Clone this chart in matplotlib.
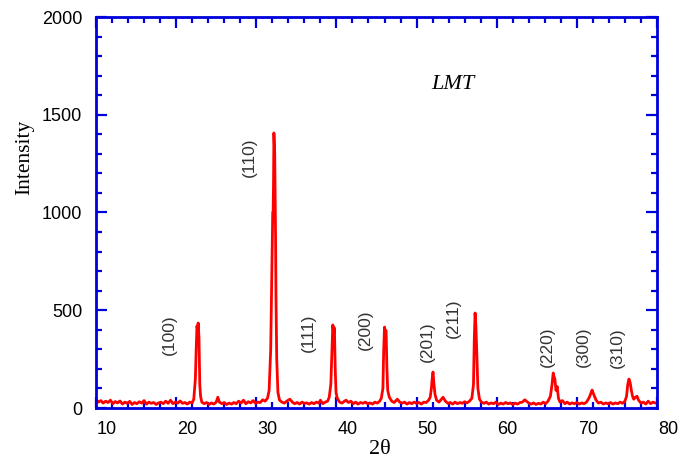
import numpy as np
import matplotlib
matplotlib.use('Agg')
import matplotlib.pyplot as plt
import matplotlib.transforms as mtransforms
from matplotlib.ticker import MultipleLocator

# XRD scan of LMT (2theta in degrees, intensity in counts)
two_theta = [
    10.0, 10.3, 10.6, 10.9, 11.2, 11.5, 11.8, 12.1, 12.4, 12.7,
    13.0, 13.3, 13.6, 13.9, 14.2, 14.5, 14.8, 15.1, 15.4, 15.7,
    16.0, 16.3, 16.6, 16.9, 17.2, 17.5, 17.8, 18.1, 18.4, 18.7,
    19.0, 19.3, 19.6, 19.9, 20.2, 20.5, 20.8, 21.1, 21.4, 21.7,
    22.0, 22.2, 22.4, 22.5, 22.6, 22.7, 22.75, 22.85, 22.95, 23.05,
    23.2, 23.5, 23.8, 24.1, 24.4, 24.7, 25.0, 25.2, 25.4, 25.7,
    26.0, 26.3, 26.6, 26.9, 27.2, 27.5, 27.8, 28.1, 28.4, 28.7,
    29.0, 29.3, 29.6, 29.9, 30.2, 30.5, 30.8, 31.1, 31.4, 31.6,
    31.8, 31.95, 32.05, 32.1, 32.15, 32.2, 32.3, 32.4, 32.45, 32.55,
    32.7, 32.9, 33.2, 33.5, 33.8, 34.2, 34.5, 34.8, 35.1, 35.4,
    35.7, 36.0, 36.3, 36.6, 36.9, 37.2, 37.5, 37.8, 38.0, 38.3,
    38.6, 38.9, 39.1, 39.3, 39.45, 39.55, 39.65, 39.75, 39.85, 39.95,
    40.1, 40.4, 40.7, 41.0, 41.2, 41.5, 41.8, 42.1, 42.4, 42.7,
    43.0, 43.3, 43.6, 43.9, 44.2, 44.5, 44.8, 45.1, 45.4, 45.6,
    45.8, 45.9, 46.0, 46.1, 46.2, 46.3, 46.4, 46.6, 46.9, 47.2,
    47.6, 47.9, 48.2, 48.5, 48.8, 49.1, 49.4, 49.7, 50.0, 50.3,
    50.6, 50.9, 51.2, 51.5, 51.7, 51.85, 51.95, 52.05, 52.15, 52.3,
    52.5, 52.8, 53.1, 53.3, 53.6, 53.9, 54.2, 54.5, 54.8, 55.1,
    55.4, 55.7, 56.0, 56.3, 56.6, 56.9, 57.1, 57.2, 57.3, 57.4,
    57.5, 57.65, 57.85, 58.1, 58.4, 58.7, 59.0, 59.3, 59.6, 59.9,
    60.2, 60.5, 60.8, 61.1, 61.4, 61.7, 62.0, 62.3, 62.6, 62.9,
    63.2, 63.5, 63.7, 64.0, 64.3, 64.6, 64.9, 65.2, 65.5, 65.8,
    66.1, 66.4, 66.7, 66.9, 67.05, 67.15, 67.25, 67.4, 67.55, 67.7,
    67.9, 68.2, 68.5, 68.8, 69.1, 69.4, 69.7, 70.0, 70.3, 70.6,
    70.9, 71.2, 71.5, 71.7, 71.9, 72.05, 72.2, 72.4, 72.7, 73.0,
    73.3, 73.6, 73.9, 74.2, 74.5, 74.8, 75.1, 75.4, 75.7, 76.0,
    76.2, 76.35, 76.5, 76.65, 76.8, 76.95, 77.1, 77.3, 77.5, 77.7,
    78.0, 78.3, 78.6, 78.9, 79.2, 79.5, 79.8, 80.0,
]
intensity = [
    45, 30, 38, 25, 35, 28, 40, 22, 33, 26,
    36, 20, 30, 24, 34, 18, 28, 22, 32, 25,
    38, 20, 30, 24, 28, 18, 26, 30, 22, 35,
    24, 40, 22, 30, 25, 36, 24, 28, 20, 30,
    26, 45, 150, 300, 420, 390, 435, 360, 120, 60,
    30, 22, 28, 18, 26, 20, 30, 55, 30, 22,
    28, 18, 25, 20, 28, 22, 35, 25, 40, 22,
    32, 26, 38, 24, 30, 28, 42, 35, 50, 90,
    300, 700, 1000, 1000, 1150, 1407, 1300, 900, 600, 250,
    80, 40, 30, 25, 35, 45, 30, 22, 28, 20,
    30, 24, 26, 20, 28, 22, 30, 25, 40, 22,
    30, 35, 55, 120, 300, 425, 380, 410, 200, 80,
    50, 30, 25, 35, 40, 28, 35, 22, 30, 20,
    28, 24, 30, 22, 26, 20, 30, 25, 35, 50,
    100, 300, 414, 390, 395, 200, 90, 55, 35, 28,
    45, 30, 25, 30, 20, 28, 22, 30, 24, 28,
    20, 30, 28, 40, 55, 100, 150, 184, 130, 70,
    40, 30, 45, 55, 35, 24, 28, 20, 30, 22,
    28, 24, 32, 26, 35, 50, 120, 350, 486, 420,
    300, 100, 45, 30, 24, 30, 20, 26, 22, 30,
    18, 25, 20, 28, 22, 26, 18, 25, 20, 28,
    30, 42, 35, 25, 20, 26, 18, 24, 20, 30,
    22, 35, 60, 120, 179, 160, 150, 90, 110, 50,
    30, 38, 22, 30, 20, 26, 22, 28, 20, 26,
    22, 30, 50, 70, 92, 75, 60, 40, 25, 30,
    20, 26, 22, 28, 20, 26, 22, 30, 24, 35,
    60, 120, 148, 130, 90, 60, 45, 55, 60, 40,
    25, 30, 20, 35, 22, 30, 25, 28,
]

# Miller index labels and where they sit (x = 2theta, y = intensity)
hkl_labels = ['(100)', '(110)', '(111)', '(200)', '(201)', '(211)', '(220)', '(300)', '(310)']
hkl_x = [19.2, 29.2, 36.45, 43.6, 51.3, 54.6, 66.3, 70.8, 75.1]
hkl_y = [373, 1285, 384, 399, 338, 460, 312, 312, 307]

x_ticks = [10, 20, 30, 40, 50, 60, 70, 80]
y_ticks = [0, 500, 1000, 1500, 2000]

frame_blue = '#0000dd'

fig = plt.figure(figsize=(6.91, 4.61), dpi=100)
ax = fig.add_axes([96 / 691, 1 - 408 / 461, 561 / 691, 391 / 461])

ax.plot(two_theta, intensity, color='#ff0000', lw=2)

ax.set_xlim(10, 80)
ax.set_ylim(0, 2000)
ax.set_xticks(x_ticks)
ax.set_yticks(y_ticks)
ax.xaxis.set_minor_locator(MultipleLocator(2))
ax.yaxis.set_minor_locator(MultipleLocator(100))

for sp in ax.spines.values():
    sp.set_color(frame_blue)
    sp.set_linewidth(2)

ax.tick_params(which='both', direction='in', color=frame_blue, width=1.6,
               top=True, right=True)
ax.tick_params(which='major', length=8)
ax.tick_params(which='minor', length=4.5)
ax.tick_params(axis='x', which='major', pad=9)
ax.tick_params(axis='y', which='major', pad=10)

for lbl in ax.get_xticklabels() + ax.get_yticklabels():
    lbl.set_fontfamily('Liberation Sans')
    lbl.set_fontsize(13)

# the number labels sit a little to the right of their ticks in the original
shift = mtransforms.ScaledTranslation(11 / 100, 0, fig.dpi_scale_trans)
for lbl in ax.get_xticklabels():
    lbl.set_transform(lbl.get_transform() + shift)

ax.set_xlabel('2θ', fontfamily='Liberation Serif', fontsize=16)
ax.xaxis.set_label_coords(0.506, -0.107)
ax.xaxis.label.set_va('center')

ax.set_ylabel('Intensity', fontfamily='Liberation Serif', fontsize=15.5)
ax.yaxis.set_label_coords(-0.127, 0.642)
ax.yaxis.label.set_va('center')

ax.text(54.5, 1655, 'LMT', fontfamily='Liberation Serif', fontstyle='italic',
        fontsize=16, ha='center', va='center')

for lab, xx, yy in zip(hkl_labels, hkl_x, hkl_y):
    ax.text(xx, yy, lab, rotation=90, ha='center', va='center',
            fontfamily='Liberation Sans', fontsize=12.5, color='#333333')

fig.savefig('out.png', dpi=100)
